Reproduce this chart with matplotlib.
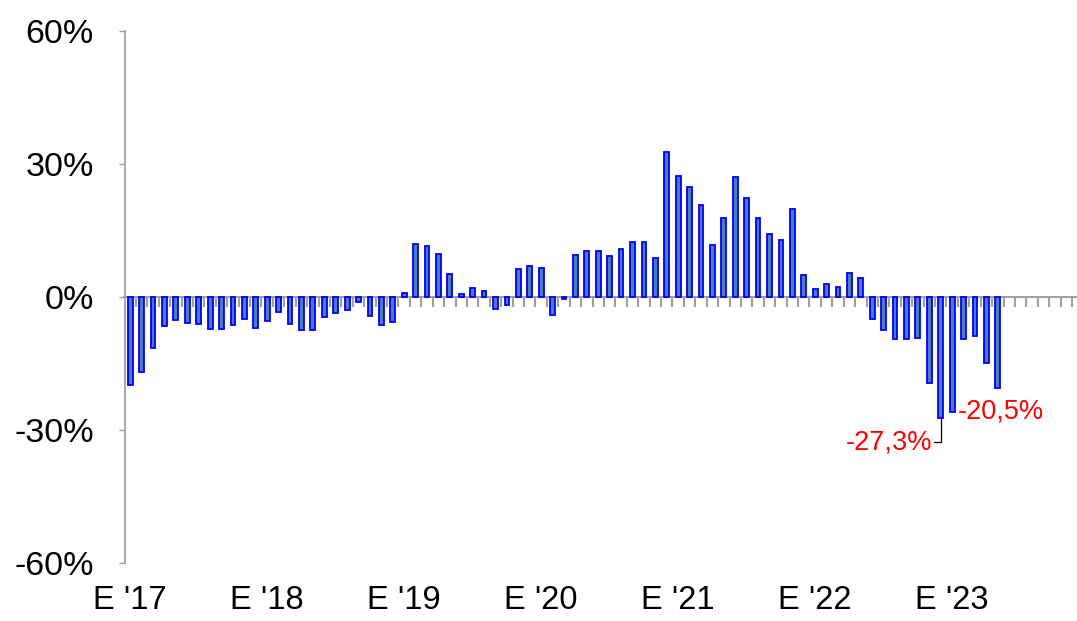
import matplotlib
matplotlib.use("Agg")
import matplotlib.pyplot as plt
import numpy as np

plt.rcParams['font.family'] = ['Liberation Sans', 'DejaVu Sans']

# Monthly year-over-year change (%), Jan 2017 .. May 2023
v2017 = [-19.8, -16.9, -11.4, -6.6, -5.2, -5.8, -6.1, -7.3, -7.3, -6.3, -5.0, -7.1]
v2018 = [-5.4, -3.4, -6.2, -7.5, -7.5, -4.5, -3.6, -2.9, -1.1, -4.2, -6.3, -5.7]
v2019 = [0.9, 12.0, 11.6, 9.8, 5.3, 0.6, 2.0, 1.4, -2.8, -1.9, 6.3, 6.9]
v2020 = [6.6, -4.0, -0.4, 9.5, 10.4, 10.3, 9.2, 10.8, 12.3, 12.3, 8.9, 32.6]
v2021 = [27.2, 24.7, 20.8, 11.8, 17.8, 27.0, 22.3, 17.8, 14.2, 12.8, 19.8, 4.9]
v2022 = [1.8, 2.9, 2.2, 5.5, 4.2, -5.0, -7.5, -9.4, -9.4, -9.2, -19.5, -27.3]
v2023 = [-25.9, -9.5, -8.9, -14.9, -20.5]
values = v2017 + v2018 + v2019 + v2020 + v2021 + v2022 + v2023

year_labels = ["E '17", "E '18", "E '19", "E '20", "E '21", "E '22", "E '23"]
n_months_axis = 84
yticks = [-60, -30, 0, 30, 60]
ytick_labels = ["-60%", "-30%", "0%", "30%", "60%"]
label_min = "-27,3%"
label_last = "-20,5%"

W, H = 1077, 621
fig = plt.figure(figsize=(W / 100, H / 100), dpi=100)
left_px, right_px, top_px, bot_px = 124.5, 1076.0, 31.0, 563.0
ax = fig.add_axes([left_px / W, 1 - bot_px / H, (right_px - left_px) / W, (bot_px - top_px) / H])

x = np.arange(len(values))
ax.bar(x, values, width=0.42, color='#4A7EBB', edgecolor='#0000FF', linewidth=1.3, zorder=3)

ax.set_ylim(-60, 60)
ax.set_xlim(-0.5, 82.85)

gray = '#A0A0A0'
for s in ['top', 'right']:
    ax.spines[s].set_visible(False)
ax.spines['left'].set_color(gray)
ax.spines['left'].set_linewidth(1.3)
ax.spines['bottom'].set_position(('data', 0))
ax.spines['bottom'].set_color(gray)
ax.spines['bottom'].set_linewidth(1.5)

ax.set_yticks(yticks)
ax.set_yticklabels(ytick_labels)
ax.tick_params(axis='y', direction='out', length=4, width=1, color=gray,
               labelsize=24.5, pad=18, labelcolor='black')

ax.set_xticks(np.arange(n_months_axis - 1) + 0.5)
ax.set_xticklabels([])
ax.tick_params(axis='x', direction='out', length=7.5, width=1.5, color=gray)

for i, lab in enumerate(year_labels):
    ax.text(12 * i, -0.041, lab, transform=ax.get_xaxis_transform(),
            ha='center', va='top', fontsize=23.5, color='black')

# annotations
imin = int(np.argmin(values))
vmin = values[imin]
ax.plot([imin, imin, imin - 0.6], [vmin, vmin - 5.5, vmin - 5.5], color='black', lw=0.9, zorder=4)
ax.text(imin - 0.75, vmin - 5.5, label_min, ha='right', va='center', fontsize=19.5, color='red')

ax.text(imin + 1.45, values[imin + 1], label_last, ha='left', va='center', fontsize=19.5, color='red')

fig.savefig('out.png', dpi=100)
